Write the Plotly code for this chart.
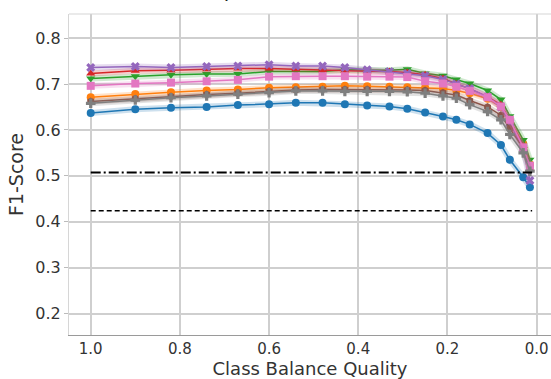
import plotly.graph_objects as go

# Class balance quality (x) and mean F1-score per method
balance = [1.0, 0.9, 0.82, 0.74, 0.67, 0.6, 0.54, 0.48, 0.43, 0.38, 0.33,
           0.29, 0.25, 0.21, 0.18, 0.15, 0.11, 0.08, 0.06, 0.03, 0.015]

f1_blue = [0.637, 0.645, 0.648, 0.650, 0.654, 0.656, 0.659, 0.659, 0.656, 0.653, 0.651,
           0.646, 0.638, 0.629, 0.622, 0.612, 0.593, 0.567, 0.535, 0.497, 0.475]
f1_orange = [0.671, 0.678, 0.682, 0.686, 0.688, 0.692, 0.693, 0.694, 0.696, 0.695, 0.694,
             0.693, 0.692, 0.690, 0.686, 0.680, 0.668, 0.650, 0.620, 0.570, 0.525]
f1_green = [0.712, 0.717, 0.720, 0.722, 0.722, 0.727, 0.727, 0.727, 0.731, 0.730, 0.730,
            0.732, 0.723, 0.718, 0.710, 0.701, 0.686, 0.666, 0.630, 0.578, 0.535]
f1_red = [0.723, 0.729, 0.730, 0.732, 0.734, 0.734, 0.732, 0.730, 0.729, 0.728, 0.727,
          0.725, 0.720, 0.712, 0.700, 0.690, 0.672, 0.655, 0.620, 0.565, 0.515]
f1_purple = [0.736, 0.738, 0.736, 0.738, 0.739, 0.742, 0.739, 0.739, 0.736, 0.731, 0.727,
             0.723, 0.718, 0.710, 0.700, 0.690, 0.672, 0.650, 0.615, 0.560, 0.490]
f1_brown = [0.662, 0.668, 0.673, 0.677, 0.680, 0.684, 0.687, 0.688, 0.688, 0.688, 0.688,
            0.687, 0.686, 0.681, 0.676, 0.664, 0.650, 0.632, 0.603, 0.560, 0.520]
f1_pink = [0.696, 0.701, 0.703, 0.706, 0.709, 0.716, 0.717, 0.717, 0.717, 0.716, 0.716,
           0.715, 0.706, 0.701, 0.694, 0.685, 0.671, 0.651, 0.622, 0.562, 0.522]
f1_gray = [0.658, 0.665, 0.670, 0.674, 0.678, 0.681, 0.685, 0.685, 0.684, 0.684, 0.684,
           0.683, 0.680, 0.674, 0.669, 0.655, 0.640, 0.622, 0.590, 0.550, 0.510]

# Horizontal reference levels
ref_dashdot = 0.507
ref_dashed = 0.424
ref_span = [1.0, 0.01]

x_ticks = [1.0, 0.8, 0.6, 0.4, 0.2, 0.0]
y_ticks = [0.2, 0.3, 0.4, 0.5, 0.6, 0.7, 0.8]

series = [
    (f1_blue, "#1f77b4", "circle"),
    (f1_orange, "#ff7f0e", "circle"),
    (f1_green, "#2ca02c", "triangle-down"),
    (f1_red, "#d62728", "triangle-up"),
    (f1_purple, "#9467bd", "x"),
    (f1_brown, "#8c564b", "hexagon"),
    (f1_pink, "#e377c2", "square"),
    (f1_gray, "#7f7f7f", "cross"),
]

fig = go.Figure()

for vals, color, symbol in series:
    # soft band behind each curve
    fig.add_trace(go.Scatter(x=balance, y=vals, mode="lines",
                             line=dict(color=color, width=6), opacity=0.22,
                             hoverinfo="skip", showlegend=False))
    fig.add_trace(go.Scatter(x=balance, y=vals, mode="lines+markers",
                             line=dict(color=color, width=1.5),
                             marker=dict(symbol=symbol, size=8, color=color),
                             showlegend=False))

fig.add_trace(go.Scatter(x=ref_span, y=[ref_dashdot, ref_dashdot], mode="lines",
                         line=dict(color="black", width=2, dash="10px,3px,2px,3px"),
                         showlegend=False))
fig.add_trace(go.Scatter(x=ref_span, y=[ref_dashed, ref_dashed], mode="lines",
                         line=dict(color="black", width=1.6, dash="5px,3px"),
                         showlegend=False))

font_main = "DejaVu Sans"

# panel title, mostly above the top edge of the page
fig.add_annotation(text="(c) Ratio of Sampled Classes (Adult Income)",
                   xref="paper", yref="paper", x=0.445, y=1.03,
                   xanchor="center", yanchor="bottom", showarrow=False,
                   font=dict(family=font_main, size=20, color="#222"))

fig.update_layout(
    width=551, height=379,
    margin=dict(l=69, r=0, t=14, b=44),
    paper_bgcolor="white", plot_bgcolor="white",
    font=dict(family=font_main, color="#333"),
    xaxis=dict(range=[1.0487, -0.0323], tickvals=x_ticks,
               ticktext=[f"{v:.1f}" for v in x_ticks],
               showgrid=True, gridcolor="#cfcfcf", gridwidth=1.5,
               zeroline=False, showline=True, linecolor="#9a9a9a", linewidth=1.2,
               mirror=False, ticks="", tickfont=dict(size=15, color="#333"),
               title=dict(text="Class Balance Quality", standoff=2,
                          font=dict(size=18, color="#333"))),
    yaxis=dict(range=[0.1532, 0.8525], tickvals=y_ticks,
               ticktext=[f"{v:.1f}" for v in y_ticks],
               showgrid=True, gridcolor="#cfcfcf", gridwidth=1.5,
               zeroline=False, showline=True, linecolor="#d6d6d6", linewidth=1.2,
               ticks="outside", ticklen=4, tickcolor="#bbbbbb",
               tickfont=dict(size=16, color="#333"),
               title=dict(text="F1-Score", standoff=6,
                          font=dict(size=19, color="#333"))),
)

# top frame line
fig.add_shape(type="line", xref="paper", yref="paper", x0=0, x1=1, y0=1, y1=1,
              line=dict(color="#d6d6d6", width=1.2))

fig.write_html("out.html")
